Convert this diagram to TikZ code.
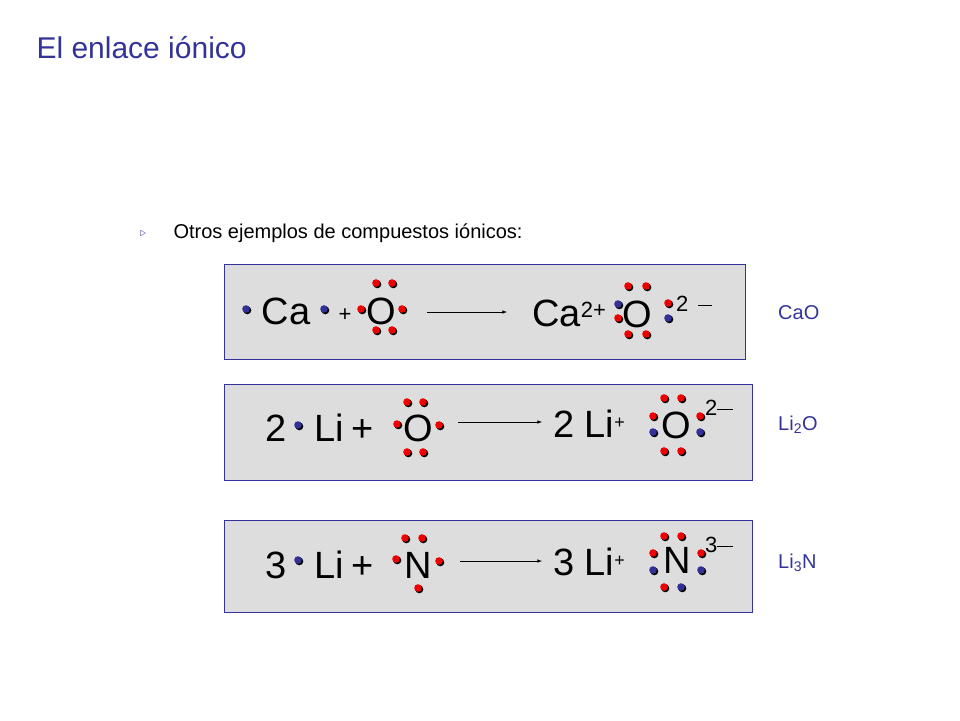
\documentclass[tikz,border=0pt]{standalone}
\usepackage{fontspec}
\setmainfont{Liberation Sans}
\usetikzlibrary{positioning}
\definecolor{titleblue}{RGB}{51,51,153}
\definecolor{boxgray}{RGB}{221,221,221}
\definecolor{elred}{RGB}{240,0,0}
\definecolor{elblue}{RGB}{50,50,150}
\tikzset{
  box/.style={draw=titleblue, fill=boxgray, line width=1pt},
  sym/.style={inner sep=0pt, text height=27pt, text depth=0pt, font=\fontsize{38}{38}\selectfont},
  small/.style={inner sep=0pt, text height=16pt, text depth=0pt, font=\fontsize{22}{22}\selectfont},
  formula/.style={inner sep=0pt, anchor=west, text=titleblue, font=\fontsize{20}{20}\selectfont},
  react/.style={-latex, line width=0.6pt}
}
\newcommand{\edot}[3]{\fill[black] (#1+1.3,#2+1.3) circle (4); \fill[#3] (#1,#2) circle (3.8);}
\begin{document}
\begin{tikzpicture}[x=1pt, y=-1pt]
\useasboundingbox (0,0) rectangle (960,720);
\node[anchor=west, text=titleblue, font=\fontsize{30}{30}\selectfont] (title) at (33,48) {El enlace iónico};
\node[text=titleblue, font=\fontsize{12}{12}\selectfont] (bul) at (143,234) {$\triangleright$};
\node[anchor=west, font=\fontsize{20}{20}\selectfont] (otros) at (170,233) {Otros ejemplos de compuestos iónicos:};

\draw[box] (224,264) rectangle (745,359);
\draw[box] (224,384) rectangle (752,480);
\draw[box] (224,520) rectangle (752,612);

% CaO
\node[sym] (ca) at (286,311) {Ca};
\node[small] (p1) at (345,313) {+};
\node[sym] (o1) at (381,311) {O};
\edot{246}{309}{elblue} \edot{324}{309}{elblue}
\edot{361}{309}{elred} \edot{402}{309}{elred}
\edot{376}{283}{elred} \edot{392}{283}{elred}
\edot{376}{330}{elred} \edot{392}{330}{elred}
\coordinate (a1s) at (427,312); \coordinate (a1e) at (507,312);
\draw[react] (a1s) -- (a1e);
\node[sym, anchor=west] (ca2) at (532,313) {Ca\textsuperscript{\fontsize{22}{22}\selectfont 2+}};
\node[sym] (o2) at (637,314) {O};
\edot{618}{304}{elblue} \edot{618}{318}{elred}
\edot{668}{303}{elred} \edot{668}{318}{elblue}
\edot{628}{286}{elred} \edot{646}{286}{elred}
\edot{628}{334}{elred} \edot{646}{334}{elred}
\node[small, anchor=west] (c1) at (676,303) {2 \,\rule[5pt]{14pt}{0.6pt}};
\node[formula] (cao) at (778,313) {CaO};

% Li2O
\node[sym] (n2a) at (276,428) {2};
\node[sym] (li1) at (329,428) {Li};
\node[sym] (p2) at (363,428) {+};
\node[sym] (o3) at (418,428) {O};
\edot{298}{425}{elblue}
\edot{397}{424}{elred} \edot{439}{425}{elred}
\edot{407}{402}{elred} \edot{423}{402}{elred}
\edot{407}{452}{elred} \edot{423}{452}{elred}
\coordinate (a2s) at (458,422); \coordinate (a2e) at (542,422);
\draw[react] (a2s) -- (a2e);
\node[sym, anchor=west] (li2) at (553,424) {2 Li\textsuperscript{\fontsize{18}{18}\selectfont +}};
\node[sym] (o4) at (676,425) {O};
\edot{653}{416}{elred} \edot{653}{432}{elblue}
\edot{700}{416}{elred} \edot{700}{432}{elblue}
\edot{664}{398}{elred} \edot{681}{398}{elred}
\edot{664}{451}{elred} \edot{681}{451}{elred}
\node[small, anchor=west] (c2) at (705,407) {2\rule[5pt]{16pt}{0.6pt}};
\node[formula] (li2o) at (778,425) {Li\textsubscript{2}O};

% Li3N
\node[sym] (n3a) at (276,565) {3};
\node[sym] (li3) at (329,565) {Li};
\node[sym] (p3) at (363,565) {+};
\node[sym] (n1) at (418,565) {N};
\edot{298}{560}{elblue}
\edot{396}{559}{elred} \edot{439}{561}{elred}
\edot{405}{538}{elred} \edot{422}{538}{elred}
\edot{418}{588}{elred}
\coordinate (a3s) at (460,561); \coordinate (a3e) at (542,561);
\draw[react] (a3s) -- (a3e);
\node[sym, anchor=west] (li4) at (553,562) {3 Li\textsuperscript{\fontsize{18}{18}\selectfont +}};
\node[sym] (n2) at (677,560) {N};
\edot{653}{553}{elred} \edot{653}{570}{elblue}
\edot{701}{553}{elred} \edot{701}{570}{elblue}
\edot{664}{536}{elred} \edot{681}{536}{elred}
\edot{664}{587}{elred} \edot{681}{587}{elblue}
\node[small, anchor=west] (c3) at (705,544) {3\rule[5pt]{16pt}{0.6pt}};
\node[formula] (li3n) at (778,563) {Li\textsubscript{3}N};
\end{tikzpicture}
\end{document}
